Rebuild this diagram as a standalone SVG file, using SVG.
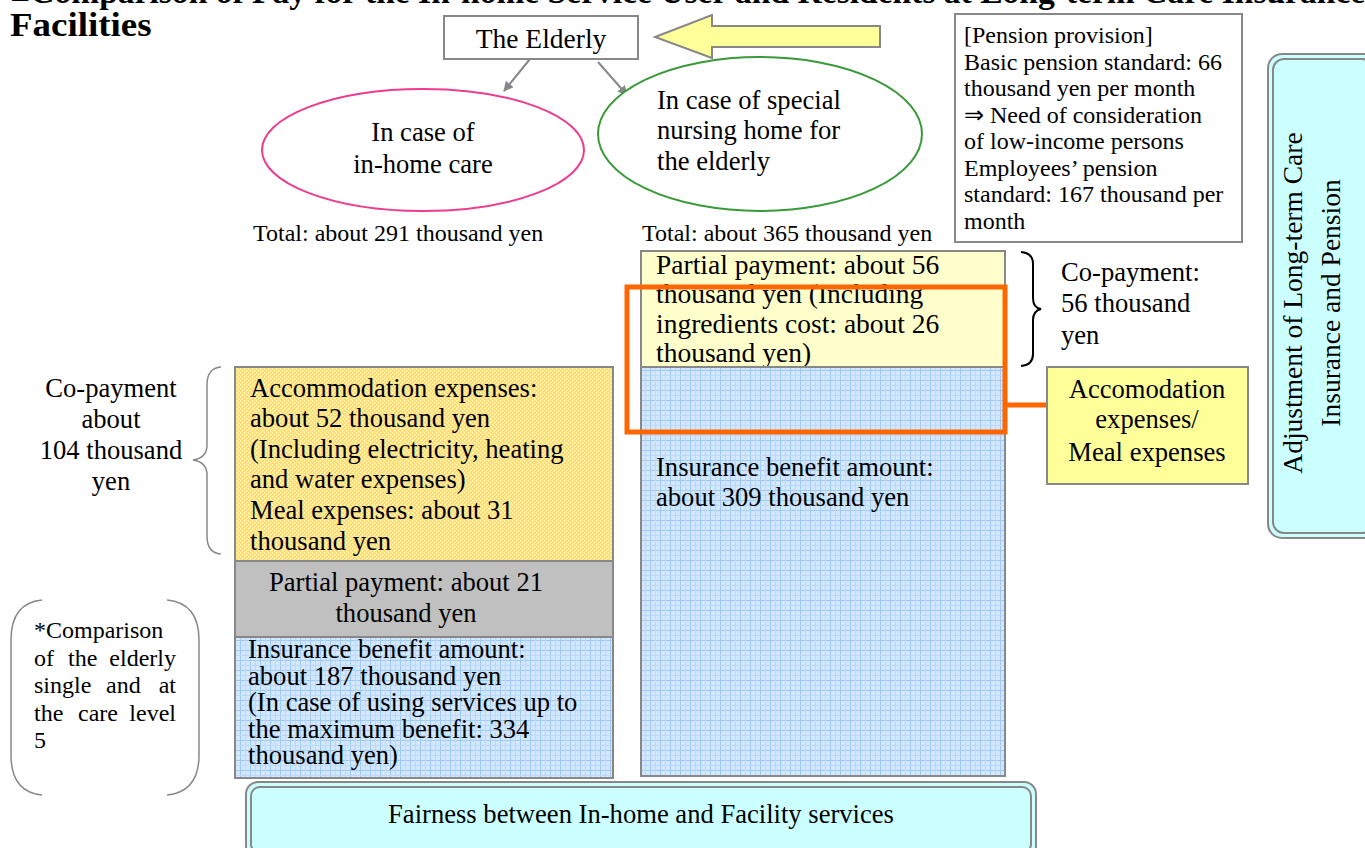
<svg xmlns="http://www.w3.org/2000/svg" width="1365" height="848" viewBox="0 0 1365 848" font-family="'Liberation Serif', 'Times New Roman', Tinos, serif">
<style>
text{font-family:"Liberation Serif","Times New Roman",Tinos,serif;fill:#000}
.t27{font-size:27.5px}
.t26{font-size:26.6px}
.t24{font-size:24px}
.box{stroke:#888;stroke-width:2}
.c{text-anchor:middle}
.e{text-anchor:end}
</style>
<defs>
<pattern id="grid" width="10" height="10" patternUnits="userSpaceOnUse">
<rect width="10" height="10" fill="#d3e7ff"/>
<path d="M0 0.5H10M0.5 0V10" stroke="#9fcaf5" stroke-width="1"/>
<path d="M0 5.5H10M5.5 0V10" stroke="#bcdaf8" stroke-width="1"/>
</pattern>
<pattern id="hatch" width="4" height="4" patternUnits="userSpaceOnUse">
<rect width="4" height="4" fill="#ffdf6a"/>
<rect x="0" y="0" width="1.5" height="1.5" fill="#fff6cc"/>
<rect x="2" y="2" width="1.5" height="1.5" fill="#fff6cc"/>
</pattern>
<marker id="ah" viewBox="0 0 10 10" refX="9" refY="5" markerWidth="5" markerHeight="5" orient="auto">
<path d="M0 0L10 5L0 10z" fill="#888"/>
</marker>
</defs>

<g id="title">
<text transform="translate(10,3) scale(1.12,1)" font-weight="bold" font-size="33" textLength="1210" lengthAdjust="spacingAndGlyphs">■Comparison of Pay for the In-home Service User and Residents at Long-term Care Insurance</text>
<text transform="translate(10,36) scale(1.12,1)" font-weight="bold" font-size="33">Facilities</text>
</g>

<g id="elderly">
<rect x="444" y="16" width="194" height="43" fill="#fff" class="box"/>
<text x="541" y="48" class="t27 c">The Elderly</text>
</g>

<g id="big-arrow">
<path d="M880 26H712V15L655 37L712 58V47H880Z" fill="#ffff99" stroke="#888" stroke-width="2"/>
</g>

<g id="connectors">
<line x1="530" y1="59" x2="504" y2="91" stroke="#888" stroke-width="2" marker-end="url(#ah)"/>
<line x1="598" y1="62" x2="627" y2="95" stroke="#888" stroke-width="2" marker-end="url(#ah)"/>
<line x1="1005" y1="405" x2="1047" y2="405" stroke="#ff6600" stroke-width="5"/>
</g>

<g id="inhome">
<ellipse cx="423" cy="150" rx="161" ry="61" fill="#fff" stroke="#ee3b8f" stroke-width="2"/>
<text x="423" y="141" class="t26 c">In case of</text>
<text x="423" y="173" class="t26 c">in-home care</text>
</g>

<g id="facility">
<ellipse cx="760" cy="134" rx="162" ry="77" fill="#fff" stroke="#3a9a3a" stroke-width="2"/>
<text x="657" y="109" class="t26">In case of special</text>
<text x="657" y="139" class="t26">nursing home for</text>
<text x="657" y="170" class="t26">the elderly</text>
</g>

<g id="totals">
<text x="253" y="241" class="t24">Total: about 291 thousand yen</text>
<text x="642" y="241" class="t24">Total: about 365 thousand yen</text>
</g>

<g id="pension">
<rect x="955" y="14" width="287" height="228" fill="#fff" class="box"/>
<text x="964" y="43" class="t24">[Pension provision]</text>
<text x="964" y="70" class="t24">Basic pension standard: 66</text>
<text x="964" y="96" class="t24">thousand yen per month</text>
<text x="964" y="123" class="t24">⇒  Need of consideration</text>
<text x="964" y="149" class="t24">of low-income persons</text>
<text x="964" y="176" class="t24">Employees’ pension</text>
<text x="964" y="202" class="t24">standard: 167 thousand per</text>
<text x="964" y="229" class="t24">month</text>
</g>

<g id="fac-partial">
<rect x="641" y="251" width="364" height="116" fill="#ffffcc" class="box"/>
<text x="656" y="274" class="t27">Partial payment: about 56</text>
<text x="656" y="303" class="t27">thousand yen (Including</text>
<text x="656" y="333" class="t27">ingredients cost: about 26</text>
<text x="656" y="362" class="t27">thousand yen)</text>
</g>

<g id="fac-insurance">
<rect x="641" y="367" width="364" height="409" fill="url(#grid)" class="box"/>
<text x="656" y="476" class="t26">Insurance benefit amount:</text>
<text x="656" y="506" class="t26">about 309 thousand yen</text>
</g>

<g id="orange-frame">
<rect x="627" y="287" width="378" height="145" fill="none" stroke="#ff6600" stroke-width="5"/>
</g>

<g id="fac-copay">
<path d="M1021 252Q1033 253 1033 264V298Q1033 308 1041 309Q1033 311 1033 320V354Q1033 365 1021 366" fill="none" stroke="#000" stroke-width="2"/>
<text x="1061" y="281" class="t26">Co-payment:</text>
<text x="1061" y="312" class="t26">56 thousand</text>
<text x="1061" y="344" class="t26">yen</text>
</g>

<g id="accom-meal">
<rect x="1047" y="367" width="201" height="117" fill="#ffff99" class="box"/>
<text x="1147" y="398" class="t26 c">Accomodation</text>
<text x="1147" y="428" class="t26 c">expenses/</text>
<text x="1147" y="461" class="t26 c">Meal expenses</text>
</g>

<g id="home-accom">
<rect x="235" y="367" width="378" height="194" fill="url(#hatch)" class="box"/>
<text x="250" y="397" class="t26">Accommodation expenses:</text>
<text x="250" y="427" class="t26">about 52 thousand yen</text>
<text x="250" y="458" class="t26">(Including electricity, heating</text>
<text x="250" y="488" class="t26">and water expenses)</text>
<text x="250" y="519" class="t26">Meal expenses: about 31</text>
<text x="250" y="550" class="t26">thousand yen</text>
</g>

<g id="home-partial">
<rect x="235" y="561" width="378" height="76" fill="#c0c0c0" class="box"/>
<text x="406" y="591" class="t26 c">Partial payment: about 21</text>
<text x="406" y="622" class="t26 c">thousand yen</text>
</g>

<g id="home-insurance">
<rect x="235" y="637" width="378" height="141" fill="url(#grid)" class="box"/>
<text x="248" y="658" class="t26">Insurance benefit amount:</text>
<text x="248" y="685" class="t26">about 187 thousand yen</text>
<text x="248" y="711" class="t26">(In case of using services up to</text>
<text x="248" y="738" class="t26">the maximum benefit: 334</text>
<text x="248" y="764" class="t26">thousand yen)</text>
</g>

<g id="home-copay">
<path d="M221 367Q207 368 207 385V445Q207 458 193 460Q207 462 207 475V536Q207 553 221 554" fill="none" stroke="#888" stroke-width="1.5"/>
<text x="111" y="397" class="t26 c">Co-payment</text>
<text x="111" y="428" class="t26 c">about</text>
<text x="111" y="459" class="t26 c">104 thousand</text>
<text x="111" y="490" class="t26 c">yen</text>
</g>

<g id="note">
<path d="M42 600Q11 603 11 640V755Q11 792 42 795" fill="none" stroke="#888" stroke-width="1.5"/>
<path d="M167 600Q199 603 199 640V755Q199 792 167 795" fill="none" stroke="#888" stroke-width="1.5"/>
<text x="34" y="638" class="t24">*Comparison</text>
<text y="666" class="t24"><tspan x="34">of</tspan><tspan x="68">the</tspan><tspan x="176" class="e">elderly</tspan></text>
<text y="693" class="t24"><tspan x="34">single</tspan><tspan x="106">and</tspan><tspan x="176" class="e">at</tspan></text>
<text y="721" class="t24"><tspan x="34">the</tspan><tspan x="78">care</tspan><tspan x="176" class="e">level</tspan></text>
<text x="34" y="748" class="t24">5</text>
</g>

<g id="fairness">
<rect x="246" y="782" width="790" height="76" rx="12" fill="#ccffff" stroke="#888" stroke-width="2"/>
<rect x="251" y="787" width="780" height="66" rx="9" fill="none" stroke="#888" stroke-width="2"/>
<text x="641" y="823" class="t26 c">Fairness between In-home and Facility services</text>
</g>

<g id="adjustment">
<rect x="1268" y="54" width="110" height="484" rx="14" fill="#ccffff" stroke="#888" stroke-width="2"/>
<rect x="1273" y="59" width="100" height="474" rx="11" fill="none" stroke="#888" stroke-width="2"/>
<text transform="translate(1302,303) rotate(-90)" class="t27 c">Adjustment of Long-term Care</text>
<text transform="translate(1340,303) rotate(-90)" class="t27 c">Insurance and Pension</text>
</g>
</svg>
